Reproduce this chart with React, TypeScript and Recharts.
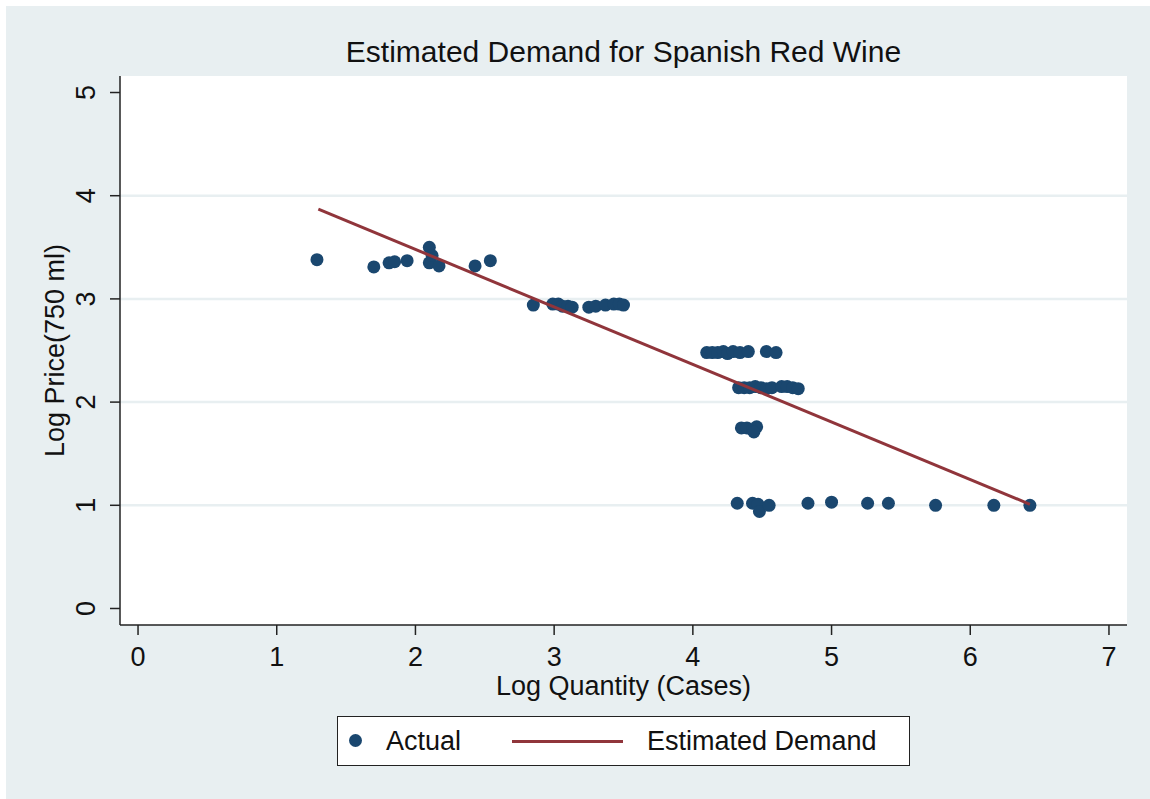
import { CartesianGrid, Label, ReferenceLine, Scatter, ScatterChart, XAxis, YAxis } from 'recharts';

const quantity = [
  1.29, 1.7, 1.81, 1.85, 1.94, 2.1, 2.1, 2.12, 2.17, 2.43, 2.54,
  2.85, 2.99, 3.03, 3.06, 3.1, 3.13, 3.25, 3.3, 3.37, 3.43, 3.47, 3.5,
  4.1, 4.14, 4.18, 4.22, 4.25, 4.29, 4.34, 4.4, 4.53, 4.6,
  4.33, 4.37, 4.41, 4.45, 4.49, 4.53, 4.57, 4.64, 4.68, 4.72, 4.76,
  4.35, 4.39, 4.43, 4.46, 4.44,
  4.32, 4.43, 4.47, 4.48, 4.55, 4.83, 5.0, 5.26, 5.41, 5.75, 6.17, 6.43
];

const price = [
  3.38, 3.31, 3.35, 3.36, 3.37, 3.5, 3.35, 3.42, 3.32, 3.32, 3.37,
  2.94, 2.95, 2.95, 2.93, 2.93, 2.92, 2.92, 2.93, 2.94, 2.95, 2.95, 2.94,
  2.48, 2.48, 2.48, 2.49, 2.47, 2.49, 2.48, 2.49, 2.49, 2.48,
  2.14, 2.14, 2.14, 2.15, 2.14, 2.13, 2.14, 2.15, 2.15, 2.14, 2.13,
  1.75, 1.75, 1.73, 1.76, 1.71,
  1.02, 1.02, 1.01, 0.94, 1.0, 1.02, 1.03, 1.02, 1.02, 1.0, 1.0, 1.0
];

const fittedQuantity = [1.3, 6.43];
const fittedPrice = [3.87, 1.01];

const xTicks = [0, 1, 2, 3, 4, 5, 6, 7];
const yTicks = [0, 1, 2, 3, 4, 5];
const gridValues = [1, 2, 3, 4];

const actual = quantity.map((x, i) => ({ x, y: price[i] }));
const fitted = fittedQuantity.map((x, i) => ({ x, y: fittedPrice[i] }));

const FONT = '"Liberation Sans", Arial, sans-serif';
const NAVY = '#1a476f';
const MAROON = '#90353b';
const BG = '#e8eff1';

function Dot(props: any) {
  const { cx, cy } = props;
  if (cx == null || cy == null) return null;
  return <circle cx={cx} cy={cy} r={6.5} fill={NAVY} />;
}

function YTick(props: any) {
  const { x, y, payload } = props;
  return (
    <text
      x={x - 15}
      y={y}
      transform={`rotate(-90, ${x - 15}, ${y})`}
      textAnchor="middle"
      fontSize={27}
      fontFamily={FONT}
      fill="#111"
    >
      {payload.value}
    </text>
  );
}

export default function App() {
  return (
    <div style={{ position: 'absolute', left: 0, top: 0, width: 1150, height: 799, background: '#fff', fontFamily: FONT }}>
      <div style={{ position: 'absolute', left: 6, top: 6, width: 1144, height: 793, background: BG }}>
        <div
          style={{
            position: 'absolute',
            left: 0,
            width: 1235,
            top: 28,
            textAlign: 'center',
            fontSize: 30,
            lineHeight: '36px',
            color: '#111'
          }}
        >
          Estimated Demand for Spanish Red Wine
        </div>

        <ScatterChart width={1144} height={793} margin={{ top: 70, right: 23, left: 0, bottom: 94 }}>
          <CartesianGrid horizontal={false} vertical={false} fill="#ffffff" stroke="none" />
          {gridValues.map((v) => (
            <ReferenceLine key={v} y={v} stroke={BG} strokeWidth={2.5} ifOverflow="hidden" />
          ))}
          <XAxis
            type="number"
            dataKey="x"
            domain={[-0.13, 7.13]}
            ticks={xTicks}
            allowDataOverflow
            height={80}
            tickSize={10}
            tickMargin={12}
            axisLine={{ stroke: '#222', strokeWidth: 1.5 }}
            tickLine={{ stroke: '#222', strokeWidth: 1.5 }}
            tick={{ fontSize: 27, fontFamily: FONT, fill: '#111' }}
          >
            <Label
              value="Log Quantity (Cases)"
              position="insideTop"
              offset={51}
              style={{ fontSize: 27, fontFamily: FONT, fill: '#111' }}
            />
          </XAxis>
          <YAxis
            type="number"
            dataKey="y"
            domain={[-0.16, 5.16]}
            ticks={yTicks}
            allowDataOverflow
            width={114}
            tickSize={10}
            tickMargin={0}
            axisLine={{ stroke: '#222', strokeWidth: 1.5 }}
            tickLine={{ stroke: '#222', strokeWidth: 1.5 }}
            tick={<YTick />}
          >
            <Label
              value="Log Price(750 ml)"
              angle={-90}
              position="insideLeft"
              offset={48}
              style={{ fontSize: 27, fontFamily: FONT, fill: '#111', textAnchor: 'middle' }}
            />
          </YAxis>
          <Scatter name="Actual" data={actual} shape={<Dot />} isAnimationActive={false} />
          <Scatter
            name="Estimated Demand"
            data={fitted}
            line={{ stroke: MAROON, strokeWidth: 3 }}
            shape={() => null}
            isAnimationActive={false}
          />
        </ScatterChart>

        <div
          style={{
            position: 'absolute',
            left: 331,
            top: 710,
            width: 573,
            height: 50,
            background: '#fff',
            border: '1.5px solid #222',
            boxSizing: 'border-box',
            fontSize: 27,
            color: '#111'
          }}
        >
          <span
            style={{ position: 'absolute', left: 11, top: 17, width: 13, height: 13, borderRadius: '50%', background: NAVY }}
          />
          <span style={{ position: 'absolute', left: 48, top: 9, lineHeight: '30px' }}>Actual</span>
          <span style={{ position: 'absolute', left: 174, top: 23, width: 111, height: 3, background: MAROON }} />
          <span style={{ position: 'absolute', left: 309, top: 9, lineHeight: '30px', whiteSpace: 'nowrap' }}>
            Estimated Demand
          </span>
        </div>
      </div>
    </div>
  );
}
